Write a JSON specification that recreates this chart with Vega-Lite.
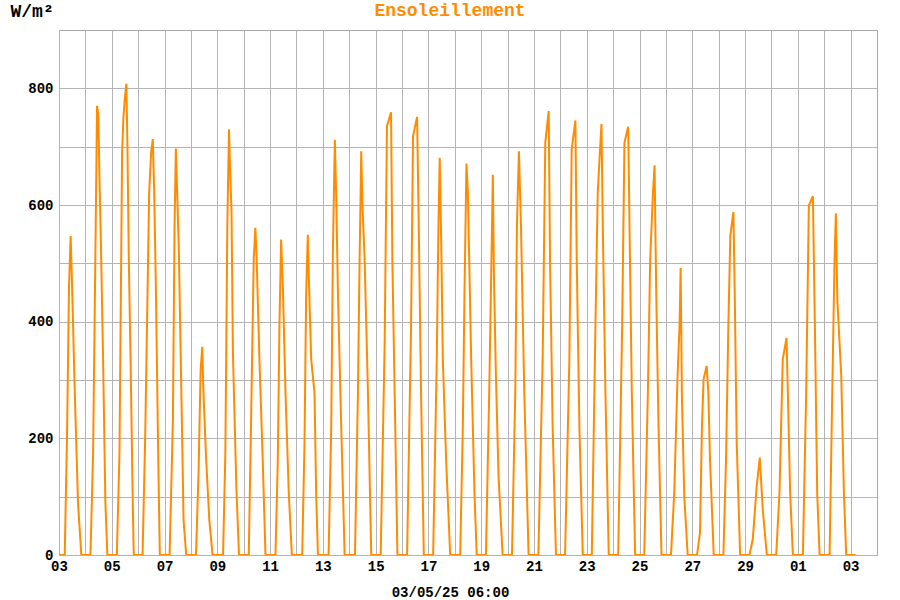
{
  "$schema": "https://vega.github.io/schema/vega-lite/v6.json",
  "autosize": "none",
  "width": 818,
  "height": 525,
  "padding": {"left": 59, "top": 30, "right": 23, "bottom": 45},
  "background": "white",
  "title": {"text": "Ensoleillement", "color": "#FF8C00", "font": "Liberation Mono", "fontSize": 18, "fontWeight": "bold", "anchor": "middle", "frame": "group", "dx": -18, "offset": -32, "baseline": "alphabetic"},
  "config": {"view": {"stroke": "#A8A8A8", "strokeWidth": 1}},
  "data": {"values": [
    {"t":"2025-04-03T00:30","v":0},{"t":"2025-04-03T05:12","v":0},{"t":"2025-04-03T07:18","v":203},{"t":"2025-04-03T09:06","v":460},{"t":"2025-04-03T10:36","v":547},{"t":"2025-04-03T11:30","v":489},{"t":"2025-04-03T12:42","v":403},{"t":"2025-04-03T14:12","v":289},{"t":"2025-04-03T17:18","v":89},{"t":"2025-04-03T20:18","v":0},
    {"t":"2025-04-04T04:36","v":0},{"t":"2025-04-04T07:00","v":174},{"t":"2025-04-04T09:24","v":564},{"t":"2025-04-04T10:36","v":770},{"t":"2025-04-04T11:48","v":755},{"t":"2025-04-04T12:42","v":655},{"t":"2025-04-04T13:54","v":555},{"t":"2025-04-04T16:00","v":346},{"t":"2025-04-04T18:12","v":89},{"t":"2025-04-04T20:00","v":0},
    {"t":"2025-04-05T04:36","v":0},{"t":"2025-04-05T07:00","v":174},{"t":"2025-04-05T09:24","v":690},{"t":"2025-04-05T10:36","v":750},{"t":"2025-04-05T11:48","v":781},{"t":"2025-04-05T13:18","v":808},{"t":"2025-04-05T14:12","v":707},{"t":"2025-04-05T15:30","v":507},{"t":"2025-04-05T17:00","v":346},{"t":"2025-04-05T19:06","v":89},{"t":"2025-04-05T20:00","v":0},
    {"t":"2025-04-06T04:00","v":0},{"t":"2025-04-06T06:24","v":203},{"t":"2025-04-06T10:00","v":621},{"t":"2025-04-06T11:48","v":690},{"t":"2025-04-06T13:18","v":713},{"t":"2025-04-06T14:36","v":621},{"t":"2025-04-06T16:06","v":460},{"t":"2025-04-06T18:12","v":174},{"t":"2025-04-06T19:42","v":0},
    {"t":"2025-04-07T04:36","v":0},{"t":"2025-04-07T07:36","v":231},{"t":"2025-04-07T09:06","v":564},{"t":"2025-04-07T10:18","v":697},{"t":"2025-04-07T11:30","v":621},{"t":"2025-04-07T13:00","v":521},{"t":"2025-04-07T15:12","v":289},{"t":"2025-04-07T17:18","v":60},{"t":"2025-04-07T19:42","v":0},
    {"t":"2025-04-08T04:36","v":0},{"t":"2025-04-08T07:00","v":146},{"t":"2025-04-08T08:48","v":317},{"t":"2025-04-08T10:18","v":357},{"t":"2025-04-08T11:12","v":289},{"t":"2025-04-08T13:36","v":174},{"t":"2025-04-08T16:42","v":60},{"t":"2025-04-08T19:42","v":0},
    {"t":"2025-04-09T05:12","v":0},{"t":"2025-04-09T07:18","v":174},{"t":"2025-04-09T09:06","v":564},{"t":"2025-04-09T10:36","v":730},{"t":"2025-04-09T11:48","v":650},{"t":"2025-04-09T12:54","v":590},{"t":"2025-04-09T14:12","v":346},{"t":"2025-04-09T17:18","v":117},{"t":"2025-04-09T19:42","v":0},
    {"t":"2025-04-10T04:36","v":0},{"t":"2025-04-10T06:42","v":231},{"t":"2025-04-10T09:06","v":507},{"t":"2025-04-10T10:36","v":561},{"t":"2025-04-10T11:48","v":506},{"t":"2025-04-10T14:18","v":335},{"t":"2025-04-10T17:18","v":163},{"t":"2025-04-10T19:48","v":0},
    {"t":"2025-04-11T04:54","v":0},{"t":"2025-04-11T07:00","v":163},{"t":"2025-04-11T08:30","v":392},{"t":"2025-04-11T10:00","v":541},{"t":"2025-04-11T11:36","v":461},{"t":"2025-04-11T14:00","v":278},{"t":"2025-04-11T17:00","v":106},{"t":"2025-04-11T19:48","v":0},
    {"t":"2025-04-12T05:12","v":0},{"t":"2025-04-12T07:18","v":192},{"t":"2025-04-12T08:48","v":449},{"t":"2025-04-12T10:18","v":549},{"t":"2025-04-12T11:12","v":478},{"t":"2025-04-12T13:24","v":335},{"t":"2025-04-12T16:24","v":278},{"t":"2025-04-12T17:54","v":106},{"t":"2025-04-12T19:30","v":0},
    {"t":"2025-04-13T05:12","v":0},{"t":"2025-04-13T07:36","v":220},{"t":"2025-04-13T09:06","v":518},{"t":"2025-04-13T10:54","v":712},{"t":"2025-04-13T12:12","v":609},{"t":"2025-04-13T13:42","v":449},{"t":"2025-04-13T16:42","v":220},{"t":"2025-04-13T19:48","v":0},
    {"t":"2025-04-14T05:12","v":0},{"t":"2025-04-14T07:54","v":278},{"t":"2025-04-14T09:24","v":506},{"t":"2025-04-14T10:54","v":692},{"t":"2025-04-14T12:00","v":600},{"t":"2025-04-14T14:00","v":506},{"t":"2025-04-14T17:00","v":278},{"t":"2025-04-14T20:00","v":0},
    {"t":"2025-04-15T04:36","v":0},{"t":"2025-04-15T08:12","v":363},{"t":"2025-04-15T10:18","v":735},{"t":"2025-04-15T14:00","v":759},{"t":"2025-04-15T15:12","v":506},{"t":"2025-04-15T17:18","v":278},{"t":"2025-04-15T19:48","v":0},
    {"t":"2025-04-16T04:36","v":0},{"t":"2025-04-16T08:12","v":392},{"t":"2025-04-16T10:00","v":718},{"t":"2025-04-16T13:42","v":751},{"t":"2025-04-16T15:12","v":564},{"t":"2025-04-16T17:18","v":278},{"t":"2025-04-16T19:48","v":0},
    {"t":"2025-04-17T04:18","v":0},{"t":"2025-04-17T07:36","v":335},{"t":"2025-04-17T09:06","v":564},{"t":"2025-04-17T10:18","v":681},{"t":"2025-04-17T11:54","v":506},{"t":"2025-04-17T13:06","v":335},{"t":"2025-04-17T16:06","v":163},{"t":"2025-04-17T19:48","v":0},
    {"t":"2025-04-18T04:54","v":0},{"t":"2025-04-18T07:18","v":220},{"t":"2025-04-18T08:48","v":449},{"t":"2025-04-18T10:36","v":671},{"t":"2025-04-18T11:54","v":621},{"t":"2025-04-18T14:54","v":335},{"t":"2025-04-18T16:24","v":220},{"t":"2025-04-18T17:54","v":106},{"t":"2025-04-18T19:54","v":0},
    {"t":"2025-04-19T04:18","v":0},{"t":"2025-04-19T07:18","v":278},{"t":"2025-04-19T08:48","v":449},{"t":"2025-04-19T09:42","v":547},{"t":"2025-04-19T10:36","v":652},{"t":"2025-04-19T11:36","v":478},{"t":"2025-04-19T13:24","v":306},{"t":"2025-04-19T15:48","v":134},{"t":"2025-04-19T19:30","v":0},
    {"t":"2025-04-20T04:00","v":0},{"t":"2025-04-20T07:00","v":278},{"t":"2025-04-20T08:30","v":564},{"t":"2025-04-20T10:18","v":692},{"t":"2025-04-20T12:12","v":564},{"t":"2025-04-20T15:12","v":278},{"t":"2025-04-20T19:06","v":0},
    {"t":"2025-04-21T04:00","v":0},{"t":"2025-04-21T07:54","v":335},{"t":"2025-04-21T10:18","v":707},{"t":"2025-04-21T13:24","v":761},{"t":"2025-04-21T14:36","v":506},{"t":"2025-04-21T17:00","v":220},{"t":"2025-04-21T20:00","v":0},
    {"t":"2025-04-22T04:18","v":0},{"t":"2025-04-22T08:12","v":335},{"t":"2025-04-22T10:18","v":695},{"t":"2025-04-22T13:42","v":745},{"t":"2025-04-22T14:54","v":506},{"t":"2025-04-22T17:18","v":220},{"t":"2025-04-22T20:24","v":0},
    {"t":"2025-04-23T04:36","v":0},{"t":"2025-04-23T07:54","v":392},{"t":"2025-04-23T10:00","v":621},{"t":"2025-04-23T11:36","v":678},{"t":"2025-04-23T13:24","v":739},{"t":"2025-04-23T14:36","v":564},{"t":"2025-04-23T17:00","v":278},{"t":"2025-04-23T20:00","v":0},
    {"t":"2025-04-24T04:36","v":0},{"t":"2025-04-24T08:12","v":392},{"t":"2025-04-24T10:18","v":707},{"t":"2025-04-24T13:42","v":734},{"t":"2025-04-24T14:54","v":564},{"t":"2025-04-24T17:00","v":278},{"t":"2025-04-24T20:00","v":0},
    {"t":"2025-04-25T04:18","v":0},{"t":"2025-04-25T07:36","v":278},{"t":"2025-04-25T09:42","v":506},{"t":"2025-04-25T12:12","v":621},{"t":"2025-04-25T13:42","v":668},{"t":"2025-04-25T15:12","v":449},{"t":"2025-04-25T17:18","v":220},{"t":"2025-04-25T20:00","v":0},
    {"t":"2025-04-26T04:36","v":0},{"t":"2025-04-26T07:36","v":107},{"t":"2025-04-26T10:36","v":307},{"t":"2025-04-26T12:30","v":399},{"t":"2025-04-26T13:24","v":492},{"t":"2025-04-26T14:36","v":267},{"t":"2025-04-26T16:42","v":101},{"t":"2025-04-26T19:48","v":0},
    {"t":"2025-04-27T04:18","v":0},{"t":"2025-04-27T07:00","v":38},{"t":"2025-04-27T08:48","v":221},{"t":"2025-04-27T10:18","v":302},{"t":"2025-04-27T13:06","v":324},{"t":"2025-04-27T14:36","v":279},{"t":"2025-04-27T16:06","v":164},{"t":"2025-04-27T19:30","v":0},
    {"t":"2025-04-28T04:18","v":0},{"t":"2025-04-28T06:42","v":164},{"t":"2025-04-28T08:48","v":393},{"t":"2025-04-28T10:36","v":548},{"t":"2025-04-28T13:24","v":588},{"t":"2025-04-28T14:36","v":450},{"t":"2025-04-28T16:24","v":193},{"t":"2025-04-28T19:30","v":0},
    {"t":"2025-04-29T04:00","v":0},{"t":"2025-04-29T07:00","v":27},{"t":"2025-04-29T10:36","v":118},{"t":"2025-04-29T13:24","v":167},{"t":"2025-04-29T16:06","v":78},{"t":"2025-04-29T19:48","v":0},
    {"t":"2025-04-30T04:18","v":0},{"t":"2025-04-30T07:18","v":107},{"t":"2025-04-30T10:18","v":336},{"t":"2025-04-30T13:42","v":372},{"t":"2025-04-30T14:54","v":279},{"t":"2025-04-30T17:00","v":107},{"t":"2025-04-30T19:30","v":0},
    {"t":"2025-05-01T04:36","v":0},{"t":"2025-05-01T07:36","v":279},{"t":"2025-05-01T10:00","v":599},{"t":"2025-05-01T13:42","v":615},{"t":"2025-05-01T15:30","v":393},{"t":"2025-05-01T17:36","v":107},{"t":"2025-05-01T19:48","v":0},
    {"t":"2025-05-02T04:54","v":0},{"t":"2025-05-02T07:18","v":279},{"t":"2025-05-02T09:24","v":508},{"t":"2025-05-02T10:36","v":586},{"t":"2025-05-02T11:54","v":439},{"t":"2025-05-02T15:30","v":307},{"t":"2025-05-02T17:54","v":107},{"t":"2025-05-02T20:00","v":0},
    {"t":"2025-05-03T04:30","v":0}
  ]},
  "mark": {"type": "line", "color": "#FF8C00", "strokeWidth": 2, "clip": true},
  "encoding": {
    "x": {
      "field": "t", "type": "temporal",
      "scale": {"domain": [{"year": 2025, "month": 4, "date": 3}, {"year": 2025, "month": 5, "date": 4}]},
      "axis": {
        "values": [
          {"year":2025,"month":4,"date":3},{"year":2025,"month":4,"date":4},{"year":2025,"month":4,"date":5},{"year":2025,"month":4,"date":6},{"year":2025,"month":4,"date":7},{"year":2025,"month":4,"date":8},{"year":2025,"month":4,"date":9},{"year":2025,"month":4,"date":10},{"year":2025,"month":4,"date":11},{"year":2025,"month":4,"date":12},{"year":2025,"month":4,"date":13},{"year":2025,"month":4,"date":14},{"year":2025,"month":4,"date":15},{"year":2025,"month":4,"date":16},{"year":2025,"month":4,"date":17},{"year":2025,"month":4,"date":18},{"year":2025,"month":4,"date":19},{"year":2025,"month":4,"date":20},{"year":2025,"month":4,"date":21},{"year":2025,"month":4,"date":22},{"year":2025,"month":4,"date":23},{"year":2025,"month":4,"date":24},{"year":2025,"month":4,"date":25},{"year":2025,"month":4,"date":26},{"year":2025,"month":4,"date":27},{"year":2025,"month":4,"date":28},{"year":2025,"month":4,"date":29},{"year":2025,"month":4,"date":30},{"year":2025,"month":5,"date":1},{"year":2025,"month":5,"date":2},{"year":2025,"month":5,"date":3}
        ],
        "labelExpr": "date(datum.value) % 2 == 1 ? timeFormat(datum.value, '%d') : ''",
        "ticks": false, "domain": false,
        "grid": true, "gridColor": "#B4B4B4", "gridWidth": 1,
        "labelFont": "Liberation Mono", "labelFontWeight": "bold", "labelFontSize": 14, "labelColor": "#000000", "labelPadding": 4, "labelOverlap": false, "labelFlush": false,
        "title": "03/05/25 06:00", "titleFont": "Liberation Mono", "titleFontWeight": "bold", "titleFontSize": 14, "titleColor": "#000000",
        "titleX": 391, "titleY": 41, "titleAlign": "center", "titleBaseline": "alphabetic"
      }
    },
    "y": {
      "field": "v", "type": "quantitative",
      "scale": {"domain": [0, 900], "nice": false, "zero": true},
      "axis": {
        "values": [0, 100, 200, 300, 400, 500, 600, 700, 800],
        "labelExpr": "datum.value % 200 == 0 ? '' + datum.value : ''",
        "ticks": false, "domain": false,
        "grid": true, "gridColor": "#B4B4B4", "gridWidth": 1,
        "labelFont": "Liberation Mono", "labelFontWeight": "bold", "labelFontSize": 14, "labelColor": "#000000", "labelPadding": 6,
        "title": "W/m²", "titleFont": "Liberation Mono", "titleFontWeight": "bold", "titleFontSize": 18, "titleColor": "#000000",
        "titleAngle": 0, "titleX": -49, "titleY": -14, "titleAlign": "left", "titleBaseline": "alphabetic"
      }
    }
  }
}
